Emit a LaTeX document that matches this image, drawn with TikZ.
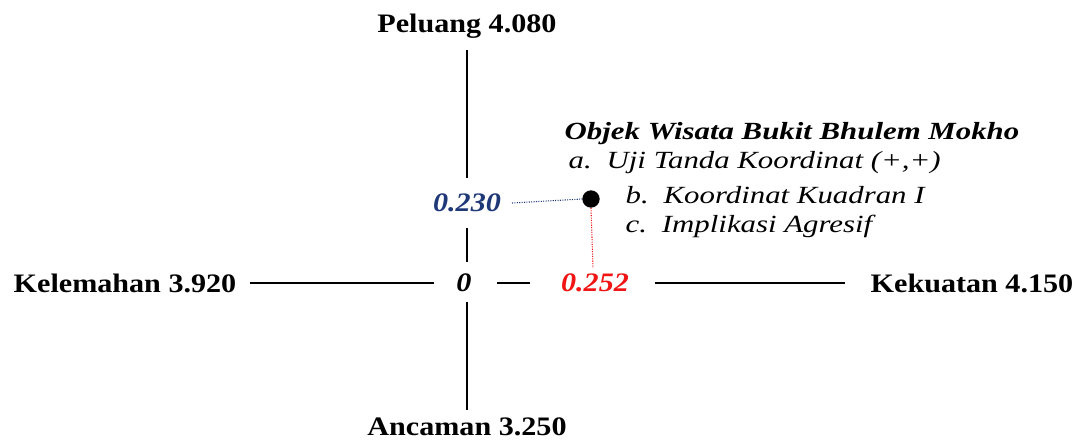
\documentclass[tikz,border=0pt]{standalone}
\usepackage{fontspec}
\setmainfont{Liberation Serif}
\newfontfamily\labelfont[FakeStretch=1.13]{Liberation Serif}
\newfontfamily\itemfont[FakeStretch=1.25]{Liberation Serif}
\usepackage{tikz}

\definecolor{navy}{RGB}{31,56,120}
\definecolor{redval}{RGB}{240,20,20}

\begin{document}
\begin{tikzpicture}[x=0.75pt,y=-0.75pt,
    axislabel/.style={font=\labelfont\fontsize{20}{24}\selectfont\bfseries},
    value/.style={font=\labelfont\fontsize{20}{24}\selectfont\bfseries\itshape},
    item/.style={font=\itemfont\fontsize{18.5}{22}\selectfont\itshape, anchor=west}]
        \useasboundingbox (0,0) rectangle (1083,442);
        % labels of the four ends
        \node[axislabel] (peluang) at (467,26) {Peluang 4.080};
        \node[axislabel] (ancaman) at (467,427) {Ancaman 3.250};
        \node[axislabel] (kelemahan) at (125,283) {Kelemahan 3.920};
        \node[axislabel] (kekuatan) at (972,283) {Kekuatan 4.150};
        \node[value] (nol) at (464,283) {0};
        \node[value, text=navy] (ny) at (467,203) {0.230};
        \node[value, text=redval] (nx) at (595,283) {0.252};
        % axis pieces
        \foreach \a/\b in {{467,50}/{467,178}, {467,228}/{467,262}, {467,302}/{467,410},
                           {250,283}/{434,283}, {497,283}/{530,283}, {655,283}/{845,283}}
            \draw[line width=1.4pt] (\a) -- (\b);
        % the point
        \node[circle, fill=black, inner sep=0pt, minimum size=13pt] (titik) at (591,199) {};
        \coordinate (ujungy) at (512,203);
        \coordinate (ujungx) at (593,268);
        \draw[navy, densely dotted, line width=0.8pt] (ujungy) -- (titik.west);
        \draw[redval, densely dotted, line width=0.8pt] (titik.south) -- (ujungx);
        % description
        \node[item, font=\itemfont\fontsize{18.5}{22}\selectfont\bfseries\itshape] (judul) at (560,134) {Objek Wisata Bukit Bhulem Mokho};
        \node[item] (a) at (564,163) {a.\hspace{0.6em}Uji Tanda Koordinat (+,+)};
        \node[item] (b) at (621,195) {b.\hspace{0.6em}Koordinat Kuadran I};
        \node[item] (c) at (621,226) {c.\hspace{0.6em}Implikasi Agresif};
    \end{tikzpicture}
\end{document}
